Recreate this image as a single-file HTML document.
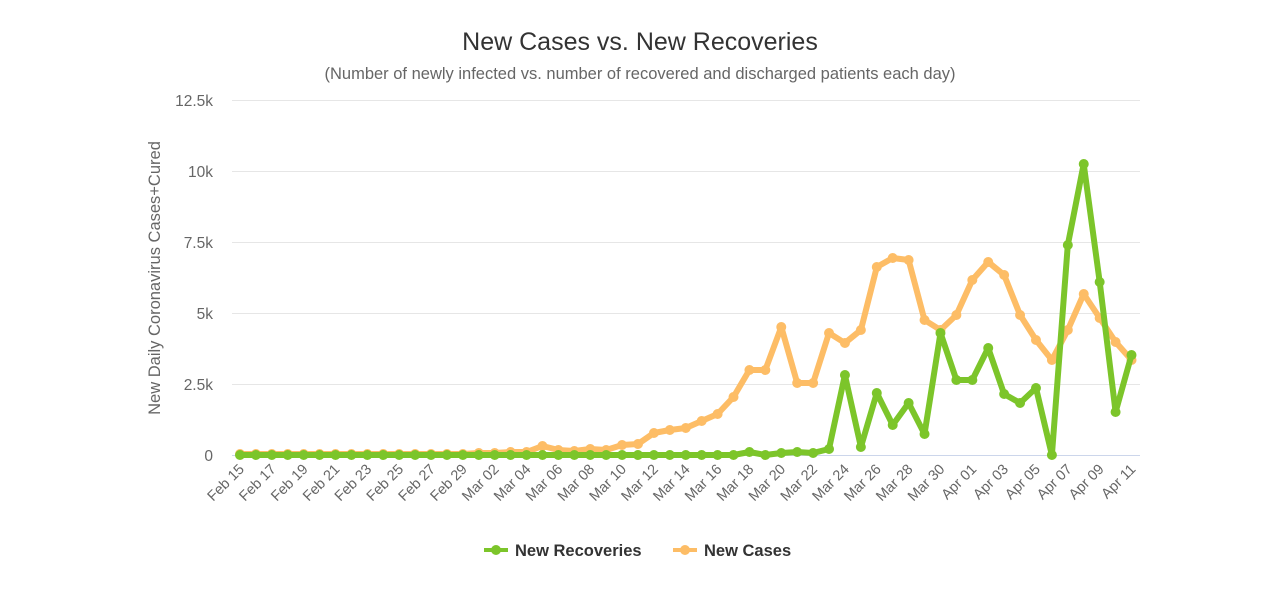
<!DOCTYPE html>
<html><head><meta charset="utf-8"><style>
html,body{margin:0;padding:0;background:#fff;}
svg{display:block;font-family:"Liberation Sans",sans-serif;}
</style></head><body>
<svg id="c" width="1280" height="591" viewBox="0 0 1280 591" xmlns="http://www.w3.org/2000/svg">
<text x="640" y="50" text-anchor="middle" font-size="25" fill="#333">New Cases vs. New Recoveries</text>
<text x="640" y="79" text-anchor="middle" font-size="16.5" fill="#666">(Number of newly infected vs. number of recovered and discharged patients each day)</text>
<g stroke="#e6e6e6" stroke-width="1">
<line x1="232" x2="1140" y1="100.5" y2="100.5"/>
<line x1="232" x2="1140" y1="171.5" y2="171.5"/>
<line x1="232" x2="1140" y1="242.5" y2="242.5"/>
<line x1="232" x2="1140" y1="313.5" y2="313.5"/>
<line x1="232" x2="1140" y1="384.5" y2="384.5"/>
</g>
<line x1="232" x2="1140" y1="455.5" y2="455.5" stroke="#ccd6eb"/>
<g font-size="15.5" fill="#666" text-anchor="end">
<text x="213" y="106">12.5k</text>
<text x="213" y="177">10k</text>
<text x="213" y="248">7.5k</text>
<text x="213" y="319">5k</text>
<text x="213" y="390">2.5k</text>
<text x="213" y="461">0</text>
</g>
<text transform="translate(160,278) rotate(-90)" text-anchor="middle" font-size="16.5" fill="#666">New Daily Coronavirus Cases+Cured</text>
<g id="xl" font-size="14.5" fill="#666" text-anchor="end"></g>
<g id="series"></g>
<g font-size="16.5" font-weight="bold" fill="#333">
<line x1="484" x2="508" y1="550" y2="550" stroke="#7cc52a" stroke-width="4"/><circle cx="496" cy="550" r="5" fill="#7cc52a"/>
<text x="515" y="556">New Recoveries</text>
<line x1="673" x2="697" y1="550" y2="550" stroke="#fdbd66" stroke-width="4"/><circle cx="685" cy="550" r="5" fill="#fdbd66"/>
<text x="704" y="556">New Cases</text>
</g>
</svg>
<script>
var NS="http://www.w3.org/2000/svg";
var step=(1131.5-240)/56;
function X(i){return 240+step*i;}
var labels=[];
var months=[["Feb",15,29],["Mar",1,31],["Apr",1,11]];
var k=0;
months.forEach(function(m){for(var d=m[1];d<=m[2];d++){if(k%2==0)labels.push([k,m[0]+" "+(d<10?"0"+d:d)]);k++;}});
var xl=document.getElementById("xl");
labels.forEach(function(l){var t=document.createElementNS(NS,"text");var x=X(l[0])+5,y=470;
t.setAttribute("transform","translate("+x+","+y+") rotate(-45)");t.textContent=l[1];xl.appendChild(t);});
var green=[];for(var i=0;i<37;i++)green.push(455);
green[32]=452;green[34]=453;green[35]=452;green[36]=453;
green=green.concat([449,375,447,393,425,403,434,333,380,380,348,394,403,388,455,245,164,282,412,355]);
var orange=[];for(var i=0;i<19;i++)orange.push(454);
orange[15]=453;orange[16]=453;orange[17]=452;orange[18]=452;
orange=orange.concat([446,450,451,449,450,445,444,433,430,428,421,414,397,370,370,327,383,383]);
orange=orange.concat([333,343,330,267,258,260,320,330,315,280,262,275,315,340,360,330,294,318,342,360]);
orange=orange.slice(0,57);
var g=document.getElementById("series");
function draw(arr,col){var p=document.createElementNS(NS,"polyline");
p.setAttribute("points",arr.map(function(y,i){return X(i).toFixed(1)+","+y;}).join(" "));
p.setAttribute("fill","none");p.setAttribute("stroke",col);p.setAttribute("stroke-width","6");p.setAttribute("stroke-linejoin","round");g.appendChild(p);
arr.forEach(function(y,i){var c=document.createElementNS(NS,"circle");c.setAttribute("cx",X(i));c.setAttribute("cy",y);c.setAttribute("r","5");c.setAttribute("fill",col);g.appendChild(c);});}
draw(orange,"#fdbd66");
draw(green,"#7cc52a");
</script>
</body></html>
